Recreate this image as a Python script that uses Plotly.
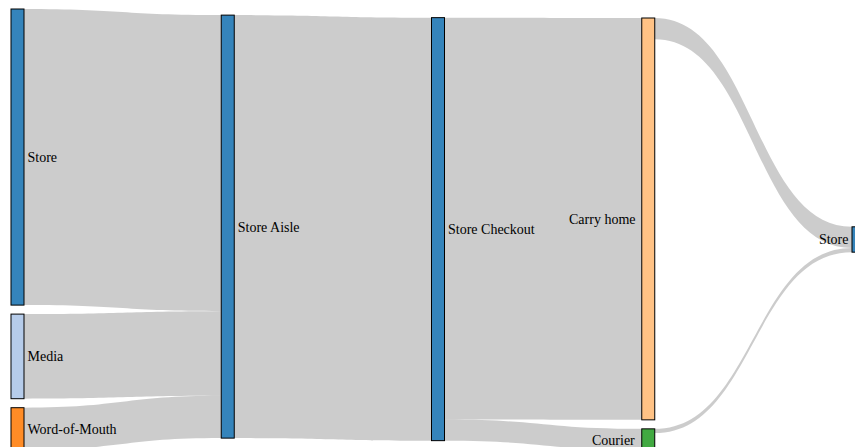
import plotly.graph_objects as go

# ---- data ----
node_labels = ["Store", "Media", "Word-of-Mouth", "Store Aisle", "Store Checkout",
               "Carry home", "Courier", "Store"]
link_sources = [0, 1, 2, 3, 4, 4, 5, 6]
link_targets = [3, 3, 3, 4, 5, 6, 7, 7]
link_values = [70, 20, 10, 100, 95, 5, 5, 1]

# nodes whose label sits on the left side of the node (drawn as annotations)
left_label_nodes = [5, 6]

# ---- styles ----
node_fill = ["rgba(31,119,180,0.9)", "rgba(174,199,232,0.9)", "rgba(255,127,14,0.9)",
             "rgba(31,119,180,0.9)", "rgba(31,119,180,0.9)", "rgba(255,187,120,0.9)",
             "rgba(44,160,44,0.9)", "rgba(31,119,180,0.9)"]
node_stroke = ["rgb(34,95,138)", "rgb(130,150,175)", "rgb(190,100,25)", "rgb(34,95,138)",
               "rgb(34,95,138)", "rgb(190,140,95)", "rgb(40,120,40)", "rgb(34,95,138)"]

FONT = "Liberation Serif, Times New Roman, serif"
W, H = 870, 460
ML, MR, MT, MB = 11, 5, 9, 10
THICK = 13
dom_w = W - ML - MR
dom_h = H - MT - MB
n_layers = 5
kx = (dom_w - THICK) / (n_layers - 1)

shown_labels = [("" if i in left_label_nodes else lab) for i, lab in enumerate(node_labels)]

fig = go.Figure(go.Sankey(
    arrangement="snap",
    node=dict(
        label=shown_labels,
        color=node_fill,
        line=dict(color=node_stroke, width=1),
        thickness=THICK,
        pad=9,
    ),
    link=dict(
        source=link_sources,
        target=link_targets,
        value=link_values,
        color="rgba(0,0,0,0.2)",
    ),
    textfont=dict(family=FONT, size=14, color="#000000", shadow="none"),
))

# left-side labels for the 4th column (Carry home, Courier)
label_centers_px = {5: 219, 6: 440}   # vertical label centres in page pixels
for i in left_label_nodes:
    x_px = 3 * kx - 5
    y_px = label_centers_px[i] - MT
    fig.add_annotation(
        x=x_px / dom_w, y=1 - y_px / dom_h, xref="paper", yref="paper",
        text=node_labels[i], showarrow=False, xanchor="right", yanchor="middle",
        font=dict(family=FONT, size=14, color="#000000"),
    )

fig.update_layout(
    width=W, height=H,
    margin=dict(l=ML, r=MR, t=MT, b=MB),
    paper_bgcolor="white",
    plot_bgcolor="white",
)

fig.write_html(
    "out.html",
    config={"displayModeBar": False},
    post_script=("document.documentElement.style.overflow='hidden';"
                 "document.body.style.overflow='hidden';"
                 "document.body.style.margin='0';"),
)
